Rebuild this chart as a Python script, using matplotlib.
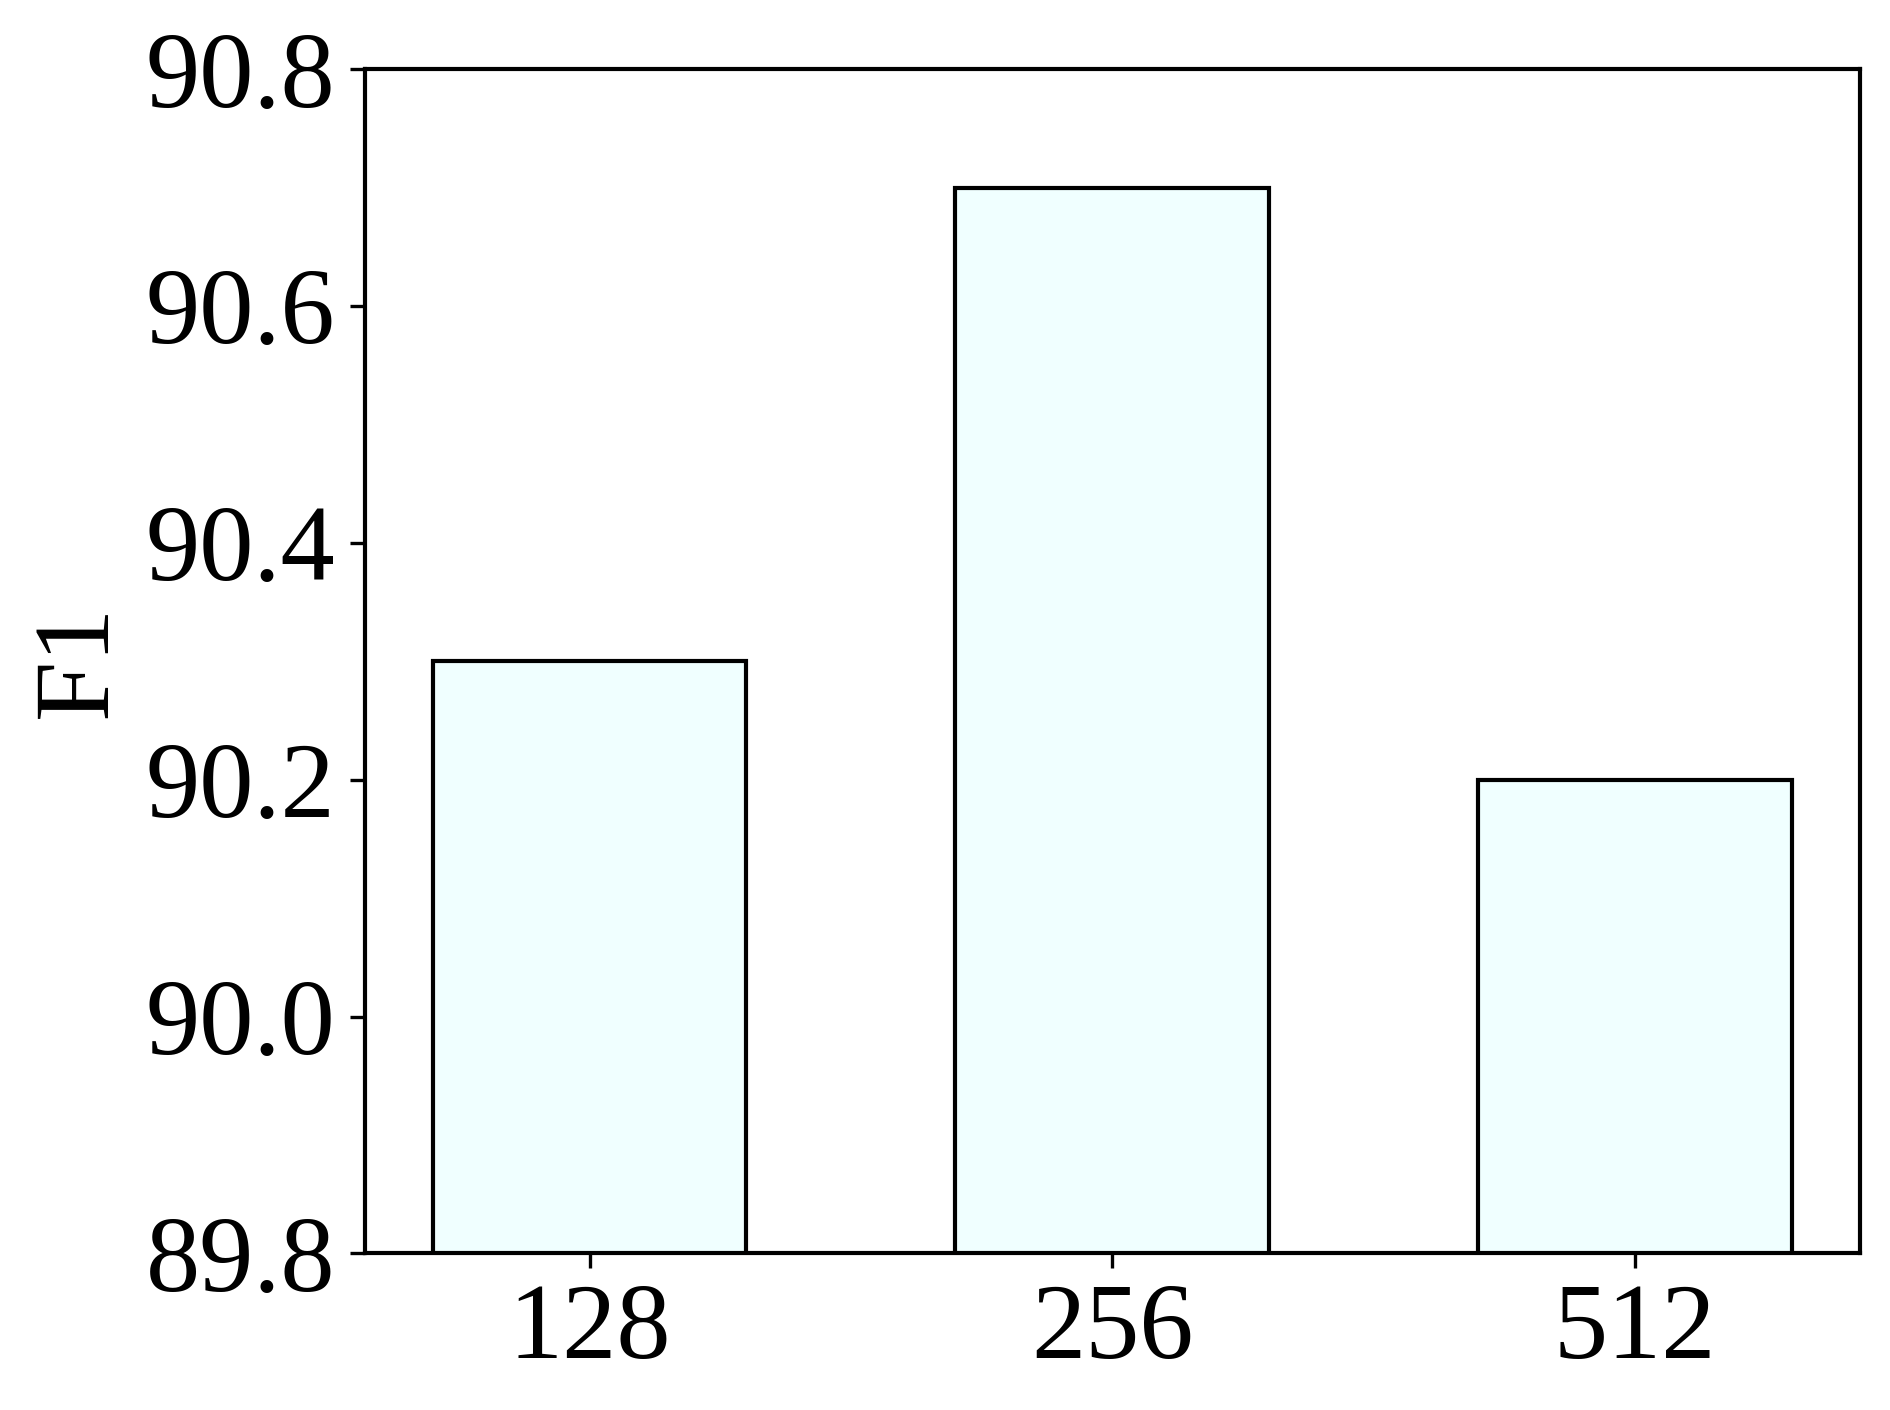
import matplotlib.pyplot as plt
import matplotlib.font_manager as fm
import numpy as np

print(sorted({f.name for f in fm.fontManager.ttflist}))
plt.rcParams['font.family'] = 'Liberation Serif'
plt.rcParams['axes.linewidth'] = 1.0

# Hidden size vs F1
sizes = ['128', '256', '512']
f1 = [90.3, 90.7, 90.2]
yticks = [89.8, 90.0, 90.2, 90.4, 90.6, 90.8]

fig, ax = plt.subplots(figsize=(6.3, 4.7), dpi=300)
fig.subplots_adjust(left=0.193, right=0.984, top=0.951, bottom=0.111)

x = np.arange(len(sizes))
ax.bar(x, f1, width=0.6, color='azure', edgecolor='black', linewidth=1.0)
ax.set_xticks(x)
ax.set_xticklabels(sizes, fontsize=26)
ax.set_ylim(89.8, 90.8)
ax.set_yticks(yticks)
ax.set_yticklabels(['%.1f' % v for v in yticks], fontsize=26)
ax.set_ylabel('F1', fontsize=26)

fig.savefig('out.png', dpi=300)
